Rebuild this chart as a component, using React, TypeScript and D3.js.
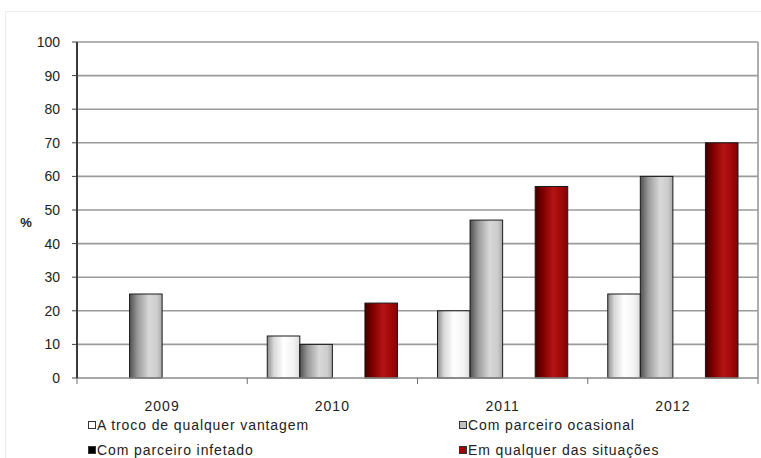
import React from "react";
import * as d3 from "d3";

const categories = ["2009", "2010", "2011", "2012"];
const seriesNames = [
  "A troco de qualquer vantagem",
  "Com parceiro ocasional",
  "Com parceiro infetado",
  "Em qualquer das situações",
];
const vantagem = [0, 12.5, 20, 25];
const ocasional = [25, 10, 47, 60];
const infetado = [0, 0, 0, 0];
const qualquer = [0, 22.3, 57, 70];
const yTicks = [0, 10, 20, 30, 40, 50, 60, 70, 80, 90, 100];

const seriesValues = [vantagem, ocasional, infetado, qualquer];
const gradIds = ["gWhite", "gGray", "gBlack", "gRed"];
const legendFill = ["#ffffff", "#c0c0c0", "#000000", "#a00000"];

const W = 761;
const H = 458;
const left = 77;
const right = 758;
const top = 42;
const bottom = 378;

export default function App() {
  const x = d3.scaleBand<string>().domain(categories).range([left, right]).padding(0);
  const bw = x.bandwidth();
  const inner = d3
    .scaleBand<number>()
    .domain([0, 1, 2, 3])
    .range([bw * 0.1175, bw * (1 - 0.1175)])
    .padding(0);
  const y = d3.scaleLinear().domain([0, 100]).range([bottom, top]);
  const font = "'Liberation Sans', Arial, sans-serif";

  return (
    <svg
      width={W}
      height={H}
      style={{ position: "absolute", left: 0, top: 0, background: "#fff" }}
      fontFamily={font}
    >
      <defs>
        <linearGradient id="gWhite" x1="0" x2="1" y1="0" y2="0">
          <stop offset="0" stopColor="#8c8c8c" />
          <stop offset="0.2" stopColor="#d8d8d8" />
          <stop offset="0.5" stopColor="#ffffff" />
          <stop offset="0.8" stopColor="#f4f4f4" />
          <stop offset="1" stopColor="#dcdcdc" />
        </linearGradient>
        <linearGradient id="gGray" x1="0" x2="1" y1="0" y2="0">
          <stop offset="0" stopColor="#505050" />
          <stop offset="0.25" stopColor="#9a9a9a" />
          <stop offset="0.6" stopColor="#d8d8d8" />
          <stop offset="0.85" stopColor="#cccccc" />
          <stop offset="1" stopColor="#a8a8a8" />
        </linearGradient>
        <linearGradient id="gBlack" x1="0" x2="1" y1="0" y2="0">
          <stop offset="0" stopColor="#000000" />
          <stop offset="0.55" stopColor="#303030" />
          <stop offset="1" stopColor="#101010" />
        </linearGradient>
        <linearGradient id="gRed" x1="0" x2="1" y1="0" y2="0">
          <stop offset="0" stopColor="#3a0000" />
          <stop offset="0.25" stopColor="#800000" />
          <stop offset="0.55" stopColor="#b41414" />
          <stop offset="0.8" stopColor="#a00808" />
          <stop offset="1" stopColor="#8a0000" />
        </linearGradient>
      </defs>

      <rect x={5.5} y={11.5} width={W} height={H} fill="#fff" stroke="#ececec" strokeWidth={1} />

      {yTicks.map((t) => (
        <g key={t}>
          {t > 0 && (
            <line x1={left} x2={right} y1={y(t)} y2={y(t)} stroke="#9a9a9a" strokeWidth={1.6} />
          )}
          <line x1={left - 5} x2={left} y1={y(t)} y2={y(t)} stroke="#404040" strokeWidth={1} />
          <text x={60} y={y(t)} dy="0.35em" textAnchor="end" fontSize={14} fill="#222">
            {t}
          </text>
        </g>
      ))}
      <line x1={right} x2={right} y1={top} y2={bottom} stroke="#9a9a9a" strokeWidth={1.6} />

      {categories.map((c, ci) =>
        seriesValues.map((vals, si) => {
          const v = vals[ci];
          if (!v) return null;
          const bx = (x(c) as number) + (inner(si) as number);
          return (
            <rect
              key={c + si}
              x={bx}
              y={y(v)}
              width={inner.bandwidth()}
              height={y(0) - y(v)}
              fill={`url(#${gradIds[si]})`}
              stroke="#1a1a1a"
              strokeWidth={1}
            />
          );
        })
      )}

      <line x1={left} x2={right} y1={bottom} y2={bottom} stroke="#8a8a8a" strokeWidth={1.6} />
      {[...categories.map((c) => x(c) as number), right].map((tx, i) => (
        <line key={i} x1={tx} x2={tx} y1={bottom} y2={bottom + 6} stroke="#707070" strokeWidth={1} />
      ))}
      <line x1={left} x2={left} y1={top} y2={bottom} stroke="#3a3a3a" strokeWidth={2} />

      {categories.map((c) => (
        <text
          key={c}
          x={(x(c) as number) + bw / 2}
          y={411}
          textAnchor="middle"
          fontSize={14}
          letterSpacing={1}
          fill="#222"
        >
          {c}
        </text>
      ))}

      <text x={26} y={227} textAnchor="middle" fontSize={13} fontWeight="bold" fill="#222">
        %
      </text>

      {seriesNames.map((n, i) => {
        const lx = i % 2 === 0 ? 88 : 459;
        const ly = i < 2 ? 430 : 455;
        return (
          <g key={n}>
            <rect x={lx + 0.5} y={ly - 8.5} width={7} height={7} fill={legendFill[i]} stroke="#333" strokeWidth={1} />
            <text x={lx + 9} y={ly} fontSize={14} letterSpacing={0.9} fill="#222">
              {n}
            </text>
          </g>
        );
      })}
    </svg>
  );
}
